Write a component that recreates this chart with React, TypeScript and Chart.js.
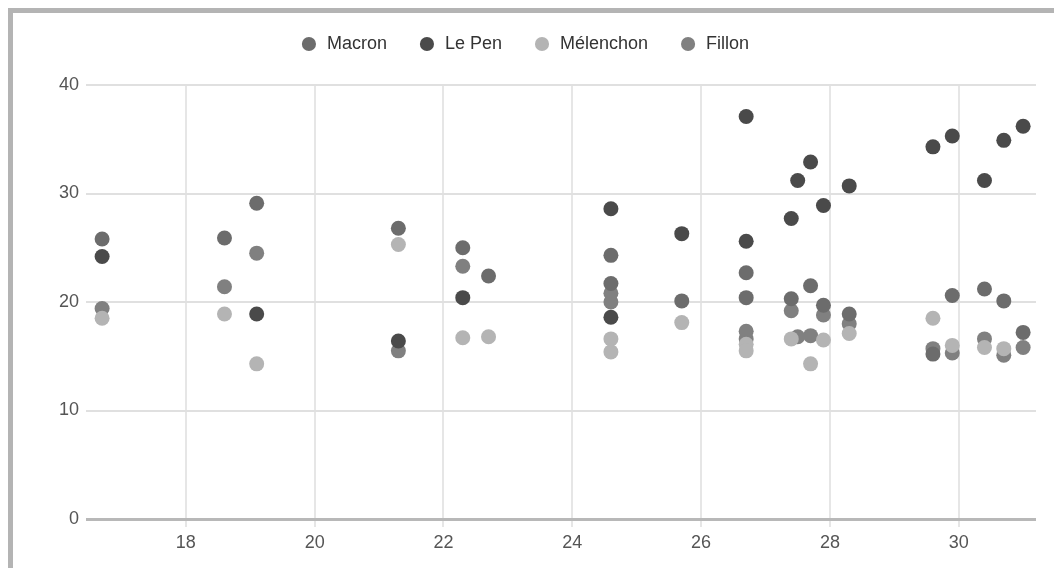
import React, { useEffect, useRef } from "react";
import { Chart, registerables } from "chart.js";

Chart.register(...registerables);

const seriesNames = ["Macron", "Le Pen", "Mélenchon", "Fillon"];
const seriesColors = ["#6c6c6c", "#4a4a4a", "#b4b4b4", "#808080"];

const macronX = [16.7, 18.6, 19.1, 21.3, 22.3, 22.7, 24.6, 24.6, 25.7, 26.7, 26.7, 27.4, 27.7, 27.9, 28.3, 29.6, 29.9, 30.4, 30.7, 31.0];
const macronY = [25.8, 25.9, 29.1, 26.8, 25.0, 22.4, 24.3, 21.7, 20.1, 22.7, 20.4, 20.3, 21.5, 19.7, 18.9, 15.2, 20.6, 21.2, 20.1, 17.2];

const lepenX = [16.7, 19.1, 21.3, 22.3, 24.6, 24.6, 25.7, 26.7, 26.7, 27.4, 27.5, 27.7, 27.9, 28.3, 29.6, 29.9, 30.4, 30.7, 31.0];
const lepenY = [24.2, 18.9, 16.4, 20.4, 28.6, 18.6, 26.3, 37.1, 25.6, 27.7, 31.2, 32.9, 28.9, 30.7, 34.3, 35.3, 31.2, 34.9, 36.2];

const melenchonX = [16.7, 18.6, 19.1, 21.3, 22.3, 22.7, 24.6, 24.6, 25.7, 26.7, 26.7, 27.4, 27.7, 27.9, 28.3, 29.6, 29.9, 30.4, 30.7];
const melenchonY = [18.5, 18.9, 14.3, 25.3, 16.7, 16.8, 16.6, 15.4, 18.1, 16.1, 15.5, 16.6, 14.3, 16.5, 17.1, 18.5, 16.0, 15.8, 15.7];

const fillonX = [16.7, 18.6, 19.1, 21.3, 22.3, 24.6, 24.6, 26.7, 26.7, 27.4, 27.5, 27.7, 27.9, 28.3, 29.6, 29.9, 30.4, 30.7, 31.0];
const fillonY = [19.4, 21.4, 24.5, 15.5, 23.3, 20.8, 20.0, 17.3, 16.6, 19.2, 16.8, 16.9, 18.8, 18.0, 15.7, 15.3, 16.6, 15.1, 15.8];

const xTicks = [18, 20, 22, 24, 26, 28, 30];
const yTicks = [0, 10, 20, 30, 40];

const FONT = "Arial, 'Liberation Sans', sans-serif";

function toPoints(xs: number[], ys: number[]) {
  return xs.map((x, i) => ({ x, y: ys[i] }));
}

// adds space between the legend row and the plot area
const legendGap = {
  id: "legendGap",
  beforeLayout(chart: any) {
    const lg = chart.legend;
    if (lg && !lg._gapWrapped) {
      const orig = lg.fit;
      lg.fit = function () {
        orig.call(this);
        this.height += 22;
      };
      lg._gapWrapped = true;
    }
  },
};

export default function App() {
  const canvasRef = useRef<HTMLCanvasElement | null>(null);

  useEffect(() => {
    if (!canvasRef.current) return;
    const allX = [macronX, lepenX, melenchonX, fillonX];
    const allY = [macronY, lepenY, melenchonY, fillonY];
    const chart = new Chart(canvasRef.current, {
      type: "scatter",
      data: {
        datasets: seriesNames.map((name, i) => ({
          label: name,
          data: toPoints(allX[i], allY[i]),
          backgroundColor: seriesColors[i],
          borderColor: seriesColors[i],
          borderWidth: 0,
          pointRadius: 7.5,
          pointHoverRadius: 7.5,
          pointStyle: "circle",
        })),
      },
      plugins: [legendGap],
      options: {
        animation: false,
        responsive: false,
        devicePixelRatio: 1,
        layout: { padding: { top: -9, right: 18, bottom: 0, left: 0 } },
        plugins: {
          legend: {
            position: "top",
            labels: {
              usePointStyle: true,
              pointStyle: "circle",
              boxHeight: 10,
              padding: 31,
              color: "#333333",
              font: { size: 18, family: FONT },
            },
          },
          tooltip: { enabled: false },
        },
        scales: {
          x: {
            type: "linear",
            min: 16.45,
            max: 31.2,
            afterBuildTicks: (s: any) => {
              s.ticks = xTicks.map((v) => ({ value: v }));
            },
            afterFit: (s: any) => {
              s.height = 49;
            },
            grid: { color: "#e6e6e6", lineWidth: 2, drawTicks: true, tickLength: 8 },
            border: { display: false },
            ticks: {
              padding: 5,
              color: "#555555",
              autoSkip: false,
              maxRotation: 0,
              font: { size: 18, family: FONT },
            },
          },
          y: {
            type: "linear",
            min: 0,
            max: 40,
            afterBuildTicks: (s: any) => {
              s.ticks = yTicks.map((v) => ({ value: v }));
            },
            afterFit: (s: any) => {
              s.width = 73;
            },
            grid: {
              color: (ctx: any) => (ctx.tick && ctx.tick.value === 0 ? "#b8b8b8" : "#e0e0e0"),
              lineWidth: (ctx: any) => (ctx.tick && ctx.tick.value === 0 ? 3 : 2),
              drawTicks: false,
            },
            border: { display: false },
            ticks: {
              padding: 7,
              color: "#555555",
              font: { size: 18, family: FONT },
            },
          },
        },
      },
    });
    return () => chart.destroy();
  }, []);

  return (
    <div
      style={{
        borderLeft: "5px solid #b4b4b4",
        borderTop: "5px solid #b4b4b4",
        width: 1041,
        height: 555,
        background: "#ffffff",
      }}
    >
      <canvas ref={canvasRef} width={1041} height={555} style={{ display: "block", width: 1041, height: 555 }} />
    </div>
  );
}
